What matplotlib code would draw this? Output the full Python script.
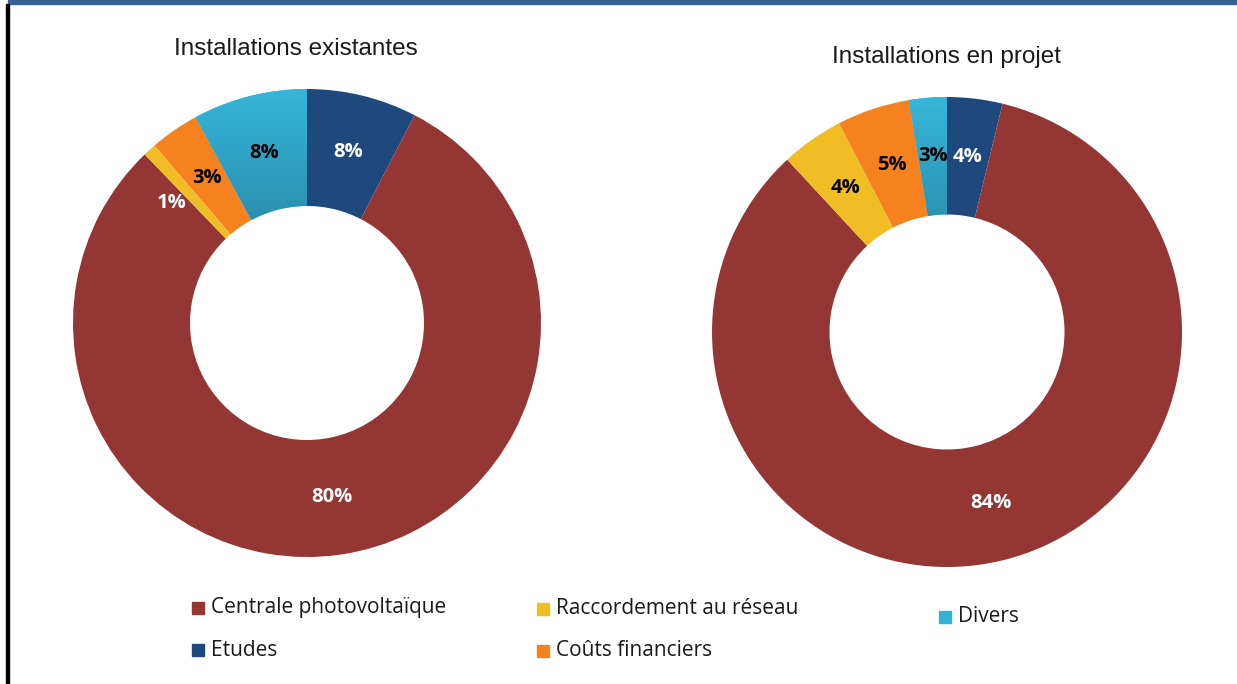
import matplotlib
matplotlib.use("Agg")
import matplotlib.pyplot as plt
import numpy as np
from matplotlib.patches import Rectangle
from matplotlib.colors import LinearSegmentedColormap

W, H = 1237, 684

categories = ["Etudes", "Centrale photovoltaïque", "Raccordement au réseau",
              "Coûts financiers", "Divers"]
colors = ["#1F497D", "#943634", "#F0BD24", "#F5821F", "#33B2D6"]
label_colors = ["white", "white", "black", "black", "black"]

existing_values = [7.6, 80.2, 0.9, 3.4, 7.9]
project_values = [3.8, 84.3, 4.3, 5.0, 2.6]

titles = ["Installations existantes", "Installations en projet"]

fig = plt.figure(figsize=(W / 100, H / 100), dpi=100)
fig.patch.set_facecolor("white")

cyan_grad = LinearSegmentedColormap.from_list("cg", ["#2A8DAB", "#36B6DB"])


def add_donut(cx, cy, r, values, title, title_x, title_base):
    ax = fig.add_axes([(cx - r) / W, 1 - (cy + r) / H, 2 * r / W, 2 * r / H])
    wedges, texts, autotexts = ax.pie(
        values, colors=colors, startangle=90, counterclock=False,
        radius=1.0, wedgeprops=dict(width=0.5, edgecolor="none"),
        autopct=lambda p: f"{p:.0f}%", pctdistance=0.75,
        textprops=dict(fontsize=14.5, fontweight="bold", family="Open Sans"))
    for t, c in zip(autotexts, label_colors):
        t.set_color(c)
        t.set_zorder(5)
    # vertical gradient on the "Divers" wedge
    grad = np.linspace(0, 1, 256).reshape(-1, 1)
    im = ax.imshow(grad, extent=(-1, 1, 0.4, 1.0), origin="lower",
                   cmap=cyan_grad, aspect="auto", zorder=2)
    im.set_clip_path(wedges[4])
    ax.set_xlim(-1, 1)
    ax.set_ylim(-1, 1)
    ax.set_aspect("equal")
    ax.axis("off")
    fig.text(title_x / W, 1 - title_base / H, title, ha="center", va="baseline",
             fontsize=17.5, family="Liberation Sans", color="#1a1a1a")
    return autotexts


at1 = add_donut(307, 323, 234, existing_values, titles[0], 296, 55)
# nudge the tiny 1% label into the neighbouring area as in the reference
x, y = at1[2].get_position()
ang = np.arctan2(y, x) + np.deg2rad(6)
rr = np.hypot(x, y) * 1.03
at1[2].set_position((rr * np.cos(ang), rr * np.sin(ang)))
at1[2].set_color("white")

add_donut(947, 332, 235, project_values, titles[1], 947, 63)

# legend (manual placement: square + text)
legend_items = [
    (1, 192, 608),
    (0, 192, 650),
    (2, 537, 609),
    (3, 537, 651),
    (4, 939, 617),
]
sq = 12
for i, x0, yc in legend_items:
    fig.patches.append(Rectangle((x0 / W, 1 - (yc + sq / 2) / H), sq / W, sq / H,
                                 transform=fig.transFigure, color=colors[i]))
    fig.text((x0 + sq + 7) / W, 1 - yc / H, categories[i], ha="left",
             va="center", family="Open Sans", fontsize=15, color="#1a1a1a")

# frame decorations: top blue bar and left black rule
fig.patches.append(Rectangle((8 / W, 1 - 4 / H), 1 - 8 / W, 4 / H,
                             transform=fig.transFigure, color="#36608F", zorder=5))
fig.patches.append(Rectangle((6 / W, 0), 2.5 / W, 1 - 4 / H,
                             transform=fig.transFigure, color="black", zorder=5))

fig.savefig("out.png", dpi=100)
